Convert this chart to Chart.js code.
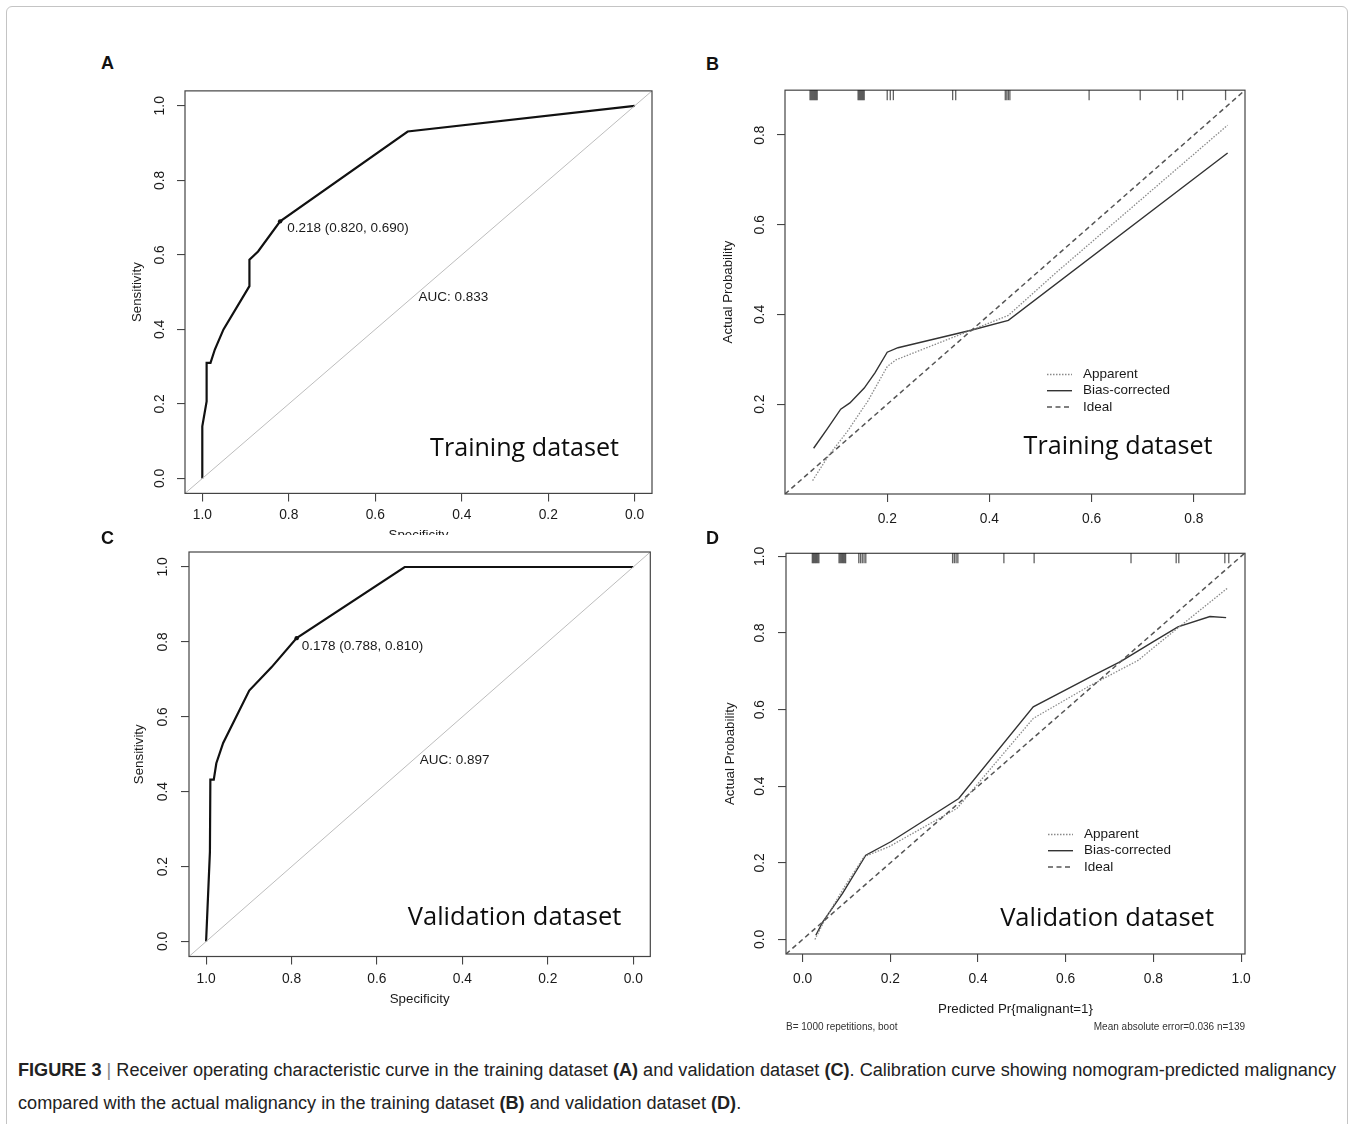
<!DOCTYPE html>
<html>
<head>
<meta charset="utf-8">
<script src="https://cdn.jsdelivr.net/npm/chart.js@4.4.1/dist/chart.umd.min.js"></script>
<style>
body { margin: 0; background: #fff; width: 1354px; height: 1124px; overflow: hidden; position: relative; font-family: "Liberation Sans", Arial, sans-serif; }
.frame { position: absolute; left: 6px; top: 6px; width: 1340px; height: 1140px; border: 1px solid #c4c4c4; border-radius: 6px; }
canvas { position: absolute; background: #fff; }
.tag { position: absolute; font-weight: bold; font-size: 18px; line-height: 18px; color: #111; }
#caption { position: absolute; left: 18px; top: 1054px; font-size: 18px; line-height: 33px; color: #222; white-space: nowrap; transform-origin: 0 0; }
#caption .bar { color: #888; }
</style>
</head>
<body>
<div class="frame"></div>
<canvas id="cA" width="570" height="470" style="left:100px;top:75px"></canvas>
<canvas id="cB" width="580" height="470" style="left:700px;top:75px"></canvas>
<canvas id="cC" width="570" height="490" style="left:100px;top:535px"></canvas>
<canvas id="cD" width="580" height="510" style="left:700px;top:535px"></canvas>
<div class="tag" style="left:101px;top:54px">A</div>
<div class="tag" style="left:706px;top:55px">B</div>
<div class="tag" style="left:101px;top:529px">C</div>
<div class="tag" style="left:706px;top:529px">D</div>
<div id="caption"><span id="line1"><b>FIGURE 3</b> <span class="bar">|</span> Receiver operating characteristic curve in the training dataset <b>(A)</b> and validation dataset <b>(C)</b>. Calibration curve showing nomogram-predicted malignancy</span><br><span>compared with the actual malignancy in the training dataset <b>(B)</b> and validation dataset <b>(D)</b>.</span></div>
<script>
// ROC, training dataset
var specA = [1.0, 1.0, 0.99, 0.99, 0.981, 0.971, 0.951, 0.891, 0.891, 0.871, 0.820, 0.525, 0.0];
var sensA = [0.0, 0.14, 0.207, 0.31, 0.31, 0.346, 0.40, 0.516, 0.587, 0.609, 0.690, 0.931, 1.0];
var thresA = 0.218, cutA = [0.820, 0.690], aucA = 0.833;

// ROC, validation dataset
var specC = [1.0, 0.991, 0.99, 0.982, 0.976, 0.960, 0.899, 0.847, 0.788, 0.535, 0.0];
var sensC = [0.0, 0.24, 0.432, 0.432, 0.476, 0.530, 0.670, 0.732, 0.810, 1.0, 1.0];
var thresC = 0.178, cutC = [0.788, 0.810], aucC = 0.897;

// calibration, training dataset
var appBx = [0.054, 0.085, 0.123, 0.162, 0.200, 0.217, 0.364, 0.437, 0.531, 0.866];
var appBy = [0.030, 0.085, 0.141, 0.207, 0.284, 0.299, 0.365, 0.398, 0.494, 0.822];
var biasBx = [0.056, 0.082, 0.109, 0.127, 0.155, 0.176, 0.200, 0.221, 0.364, 0.437, 0.866];
var biasBy = [0.102, 0.144, 0.189, 0.203, 0.236, 0.270, 0.316, 0.326, 0.365, 0.387, 0.760];
var rugB = [0.049, 0.051, 0.053, 0.055, 0.057, 0.059, 0.061, 0.063,
            0.143, 0.145, 0.147, 0.149, 0.151, 0.153, 0.155,
            0.200, 0.206, 0.212, 0.328, 0.334, 0.431, 0.434, 0.437, 0.440,
            0.595, 0.695, 0.768, 0.778, 0.862];

// calibration, validation dataset
var appDx = [0.028, 0.050, 0.091, 0.140, 0.197, 0.352, 0.526, 0.653, 0.766, 0.807, 0.970];
var appDy = [0.000, 0.050, 0.129, 0.216, 0.242, 0.342, 0.577, 0.661, 0.729, 0.768, 0.918];
var biasDx = [0.030, 0.046, 0.091, 0.144, 0.201, 0.356, 0.526, 0.661, 0.726, 0.799, 0.856, 0.929, 0.966];
var biasDy = [0.011, 0.046, 0.120, 0.220, 0.255, 0.368, 0.607, 0.688, 0.726, 0.777, 0.816, 0.843, 0.840];
var rugD = [0.022, 0.0245, 0.027, 0.0295, 0.032, 0.0345, 0.037,
            0.083, 0.0855, 0.088, 0.0905, 0.093, 0.0955, 0.098,
            0.128, 0.132, 0.136, 0.140, 0.144, 0.342, 0.346, 0.350, 0.354,
            0.459, 0.528, 0.749, 0.852, 0.858, 0.963, 0.972];
var bootB = 1000, maeD = 0.036, nD = 139;

var ticksRoc = [0.0, 0.2, 0.4, 0.6, 0.8, 1.0];
var ticksCalB = [0.2, 0.4, 0.6, 0.8];
var ticksCalD = [0.0, 0.2, 0.4, 0.6, 0.8, 1.0];
var legendNames = ['Apparent', 'Bias-corrected', 'Ideal'];

var FONT = '"Liberation Sans", Arial, sans-serif';
Chart.defaults.font.family = FONT;
Chart.defaults.color = '#1a1a1a';

function pts(xs, ys) {
    return xs.map(function (x, i) { return {x: x, y: ys[i]}; });
}

function line(data, color, width, dash, label) {
    return {label: label, data: data, showLine: true, borderColor: color, borderWidth: width,
        borderDash: dash || [], pointRadius: 0, fill: false, tension: 0};
}

function scale(o) {
    var isY = o.axis === 'y';
    return {
        type: 'linear', position: isY ? 'left' : 'bottom',
        min: o.min, max: o.max, reverse: !!o.reverse,
        afterBuildTicks: function (s) { s.ticks = o.ticks.map(function (v) { return {value: v}; }); },
        afterFit: function (s) { if (isY) { s.width = o.size; } else { s.height = o.size; } },
        border: {display: false},
        grid: {drawOnChartArea: false, drawTicks: true, tickLength: 8, color: '#444', lineWidth: 1.1},
        ticks: {
            padding: o.pad, color: '#1a1a1a', font: {size: 13.8}, autoSkip: false,
            minRotation: isY ? 90 : 0, maxRotation: isY ? 90 : 0,
            crossAlign: isY ? 'center' : 'near',
            callback: function (v) { return Number(v).toFixed(1); }
        },
        title: o.title ? {display: true, text: o.title, color: '#1a1a1a', font: {size: 13.3},
            padding: isY ? {top: o.tpad, bottom: 0} : {top: 0, bottom: o.tpad}} : {display: false}
    };
}

var rPlot = {
    id: 'rplot',
    afterDatasetsDraw: function (chart, args, opts) {
        var ctx = chart.ctx, a = chart.chartArea, xs = chart.scales.x, ys = chart.scales.y;
        ctx.save();
        ctx.strokeStyle = '#444';
        ctx.lineWidth = 1.2;
        ctx.strokeRect(a.left, a.top, a.right - a.left, a.bottom - a.top);

        if (opts.rug) {
            ctx.strokeStyle = 'rgba(0,0,0,0.62)';
            ctx.lineWidth = 1.3;
            opts.rug.forEach(function (v) {
                var px = xs.getPixelForValue(v);
                ctx.beginPath();
                ctx.moveTo(px, a.top);
                ctx.lineTo(px, a.top + 10);
                ctx.stroke();
            });
        }

        ctx.fillStyle = '#1a1a1a';
        ctx.textBaseline = 'middle';
        (opts.notes || []).forEach(function (n) {
            ctx.font = '13.5px ' + FONT;
            ctx.textAlign = 'left';
            ctx.fillText(n.text, xs.getPixelForValue(n.x) + (n.dx || 0), ys.getPixelForValue(n.y) + (n.dy || 0));
        });

        if (opts.legend) {
            opts.legend.forEach(function (name, i) {
                var ds = chart.data.datasets.filter(function (d) { return d.label === name; })[0];
                var y = a.bottom - 119.5 + i * 16.2;
                ctx.strokeStyle = ds.borderColor;
                ctx.lineWidth = ds.borderWidth;
                ctx.setLineDash(ds.borderDash);
                ctx.beginPath();
                ctx.moveTo(a.left + 262, y);
                ctx.lineTo(a.left + 287, y);
                ctx.stroke();
                ctx.setLineDash([]);
                ctx.font = '13.5px ' + FONT;
                ctx.textAlign = 'left';
                ctx.fillText(name, a.left + 298, y);
            });
        }

        if (opts.tag) {
            var t = opts.tag;
            ctx.font = '24px "Open Sans"';
            var size = 24 * t.width / ctx.measureText(t.text).width;
            ctx.font = size.toFixed(2) + 'px "Open Sans"';
            ctx.fillStyle = '#0d0d0d';
            ctx.textAlign = 'right';
            ctx.fillText(t.text, a.right - t.right, a.bottom - t.bottom);
        }

        if (opts.foot) {
            ctx.fillStyle = '#333';
            ctx.font = '10px ' + FONT;
            ctx.textAlign = 'left';
            ctx.fillText(opts.foot[0], a.left, a.bottom + 73);
            ctx.textAlign = 'right';
            ctx.fillText(opts.foot[1], a.right, a.bottom + 73);
        }
        ctx.restore();
    }
};

function draw(id, pad, xo, yo, datasets, extra) {
    return new Chart(document.getElementById(id), {
        type: 'scatter',
        data: {datasets: datasets},
        options: {
            responsive: false, animation: false, events: [], devicePixelRatio: 1,
            layout: {padding: {top: pad[0], right: pad[1], left: 0, bottom: 0}},
            scales: {x: scale(xo), y: scale(yo)},
            plugins: {legend: {display: false}, tooltip: {enabled: false}, rplot: extra}
        },
        plugins: [rPlot]
    });
}

function rocSets(spec, sens, cut) {
    return [
        line([{x: 1.04, y: -0.04}, {x: -0.04, y: 1.04}], '#bdbdbd', 1),
        line(pts(spec, sens), '#111', 2.2),
        {data: [{x: cut[0], y: cut[1]}], pointRadius: 2.2, pointBackgroundColor: '#111', pointBorderWidth: 0}
    ];
}

function calSets(appX, appY, biasX, biasY, lo, hi) {
    return [
        line([{x: lo, y: lo}, {x: hi, y: hi}], '#555', 1.5, [5, 3.5], 'Ideal'),
        line(pts(appX, appY), '#8a8a8a', 1.3, [1.5, 1.5], 'Apparent'),
        line(pts(biasX, biasY), '#333', 1.4, [], 'Bias-corrected')
    ];
}

draw('cA', [10.3, 18],
    {axis: 'x', min: -0.04, max: 1.04, reverse: true, ticks: ticksRoc, size: 51.6, pad: 5.6, title: 'Specificity', tpad: 1.5},
    {axis: 'y', min: -0.04, max: 1.04, ticks: ticksRoc, size: 85, pad: 7.6, title: 'Sensitivity', tpad: 29.2},
    rocSets(specA, sensA, cutA),
    {notes: [{x: cutA[0], y: cutA[1], dx: 7, dy: 7, text: thresA.toFixed(3) + ' (' + cutA[0].toFixed(3) + ', ' + cutA[1].toFixed(3) + ')'},
             {x: 0.5, y: 0.485, text: 'AUC: ' + aucA.toFixed(3)}],
     tag: {text: 'Training dataset', width: 189, right: 33, bottom: 45}});

draw('cB', [12.3, 35],
    {axis: 'x', min: 0, max: 0.9, ticks: ticksCalB, size: 51, pad: 8.8},
    {axis: 'y', min: 0, max: 0.9, ticks: ticksCalB, size: 85, pad: 6.9, title: 'Actual Probability', tpad: 20.8},
    calSets(appBx, appBy, biasBx, biasBy, 0, 0.9),
    {rug: rugB, legend: legendNames, tag: {text: 'Training dataset', width: 189, right: 32.5, bottom: 47.3}});

draw('cC', [17, 19.7],
    {axis: 'x', min: -0.04, max: 1.04, reverse: true, ticks: ticksRoc, size: 68.5, pad: 6.1, title: 'Specificity', tpad: 17.2},
    {axis: 'y', min: -0.04, max: 1.04, ticks: ticksRoc, size: 89, pad: 8.6, title: 'Sensitivity', tpad: 31.2},
    rocSets(specC, sensC, cutC),
    {notes: [{x: cutC[0], y: cutC[1], dx: 5, dy: 8, text: thresC.toFixed(3) + ' (' + cutC[0].toFixed(3) + ', ' + cutC[1].toFixed(3) + ')'},
             {x: 0.5, y: 0.485, text: 'AUC: ' + aucC.toFixed(3)}],
     tag: {text: 'Validation dataset', width: 213.5, right: 29, bottom: 38.5}});

draw('cD', [18.3, 35],
    {axis: 'x', min: -0.038, max: 1.009, ticks: ticksCalD, size: 91, pad: 9.1, title: 'Predicted Pr{malignant=1}', tpad: 27.2},
    {axis: 'y', min: -0.038, max: 1.008, ticks: ticksCalD, size: 86, pad: 7.9, title: 'Actual Probability', tpad: 22.2},
    calSets(appDx, appDy, biasDx, biasDy, -0.038, 1.009),
    {rug: rugD, legend: legendNames, tag: {text: 'Validation dataset', width: 214, right: 31, bottom: 35.7},
     foot: ['B= ' + bootB + ' repetitions, boot', 'Mean absolute error=' + maeD.toFixed(3) + ' n=' + nD]});

// squeeze the caption to the printed line width
var cap = document.getElementById('caption');
var w1 = document.getElementById('line1').getBoundingClientRect().width;
cap.style.transform = 'scaleX(' + (1318 / w1).toFixed(4) + ')';
</script>
</body>
</html>
